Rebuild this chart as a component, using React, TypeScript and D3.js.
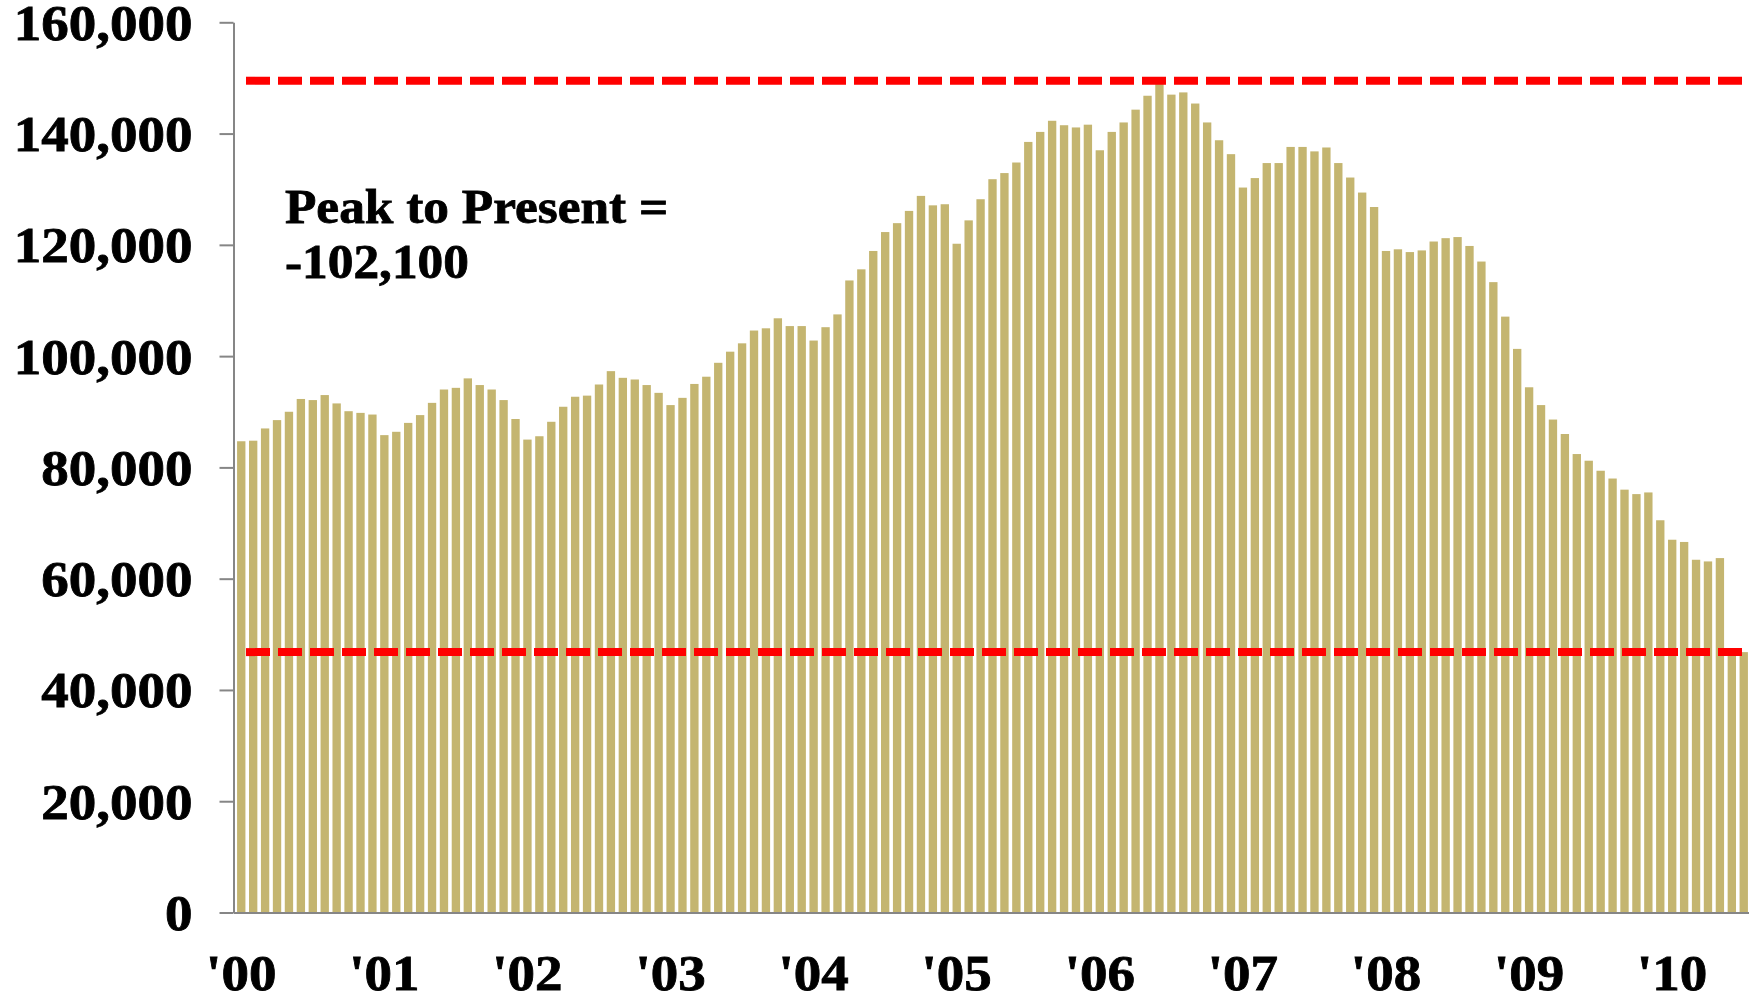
import React, { useRef, useEffect } from 'react';
import * as d3 from 'd3';

// constants
const width = 1749;
const height = 1002;
const axisX = 233.5;
const baseY = 912.5;
const topY = 22.3;
const barColour = '#C4B570';
const axisColour = '#868686';
const fontFamily = '"Liberation Serif", "Times New Roman", serif';
const fontSize = 50;
const stretch = 1.1; // widen the serif glyphs a little
const noteSize = 48;
const noteStretch = 1.07;

// monthly values, Jan 2000 .. Jul 2010
const values2000 = [84700, 84800, 87000, 88500, 90000, 92300, 92100, 93000, 91500, 90100, 89800, 89500];
const values2001 = [85800, 86400, 88000, 89400, 91600, 94000, 94300, 96000, 94800, 94000, 92100, 88700];
const values2002 = [85000, 85600, 88200, 90900, 92700, 92900, 94900, 97300, 96100, 95800, 94800, 93400];
const values2003 = [91200, 92500, 95000, 96300, 98800, 100800, 102300, 104600, 105000, 106800, 105400, 105400];
const values2004 = [102800, 105200, 107500, 113600, 115600, 118900, 122300, 123900, 126100, 128800, 127100, 127300];
const values2005 = [120200, 124400, 128200, 131800, 132900, 134800, 138500, 140300, 142300, 141500, 141100, 141600];
const values2006 = [137000, 140300, 142000, 144300, 146800, 148900, 147000, 147400, 145400, 142000, 138800, 136300];
const values2007 = [130300, 132000, 134700, 134700, 137600, 137600, 136800, 137500, 134700, 132100, 129400, 126800];
const values2008 = [118900, 119200, 118700, 119000, 120600, 121200, 121400, 119800, 117000, 113300, 107100, 101300];
const values2009 = [94400, 91200, 88600, 86000, 82400, 81200, 79400, 78000, 76000, 75200, 75500, 70500];
const values2010 = [67000, 66600, 63400, 63100, 63700, 47100, 46800];

const values = [
  ...values2000, ...values2001, ...values2002, ...values2003, ...values2004, ...values2005,
  ...values2006, ...values2007, ...values2008, ...values2009, ...values2010,
];

const yTicks = [0, 20000, 40000, 60000, 80000, 100000, 120000, 140000, 160000];
const xTickLabels = ["'00", "'01", "'02", "'03", "'04", "'05", "'06", "'07", "'08", "'09", "'10"];
const refLines = [149500, 46800]; // peak and present
const note = ['Peak to Present =', '-102,100'];

const App = () => {
  const barsRef = useRef<SVGGElement>(null);
  const yAxisRef = useRef<SVGGElement>(null);
  const xAxisRef = useRef<SVGGElement>(null);
  const linesRef = useRef<SVGGElement>(null);

  // scales
  const xScale = d3.scaleBand<number>()
    .domain(d3.range(values.length))
    .range([axisX, 1751.5])
    .paddingInner(0.3)
    .paddingOuter(0.3);
  const yScale = d3.scaleLinear().domain([0, 160000]).range([baseY, topY]);

  useEffect(() => {
    // bars
    d3.select(barsRef.current)
      .selectAll('rect')
      .data(values)
      .join('rect')
        .attr('x', (d, i) => xScale(i)!)
        .attr('width', xScale.bandwidth())
        .attr('y', d => yScale(d))
        .attr('height', d => baseY - yScale(d))
        .attr('fill', barColour);

    // y axis
    const yAxis = d3.select(yAxisRef.current)
      .attr('transform', `translate(${axisX},0)`)
      .call(d3.axisLeft(yScale).tickValues(yTicks).tickSize(14).tickSizeOuter(0).tickFormat(d3.format(',')));
    yAxis.select('.domain').attr('stroke', axisColour).attr('stroke-width', 2);
    yAxis.selectAll('.tick line').attr('stroke', axisColour).attr('stroke-width', 2);
    yAxis.selectAll('.tick text')
      .attr('x', null)
      .attr('dy', '0.34em')
      .attr('transform', `translate(-41,0) scale(${stretch},1)`)
      .attr('font-family', fontFamily)
      .attr('font-weight', 'bold')
      .attr('font-size', fontSize)
      .attr('fill', '#000')
      .attr('stroke', '#000')
      .attr('stroke-width', 0.8);

    // x axis: labels under each January bar
    const januaries = d3.range(0, values.length, 12);
    const xAxis = d3.select(xAxisRef.current)
      .attr('transform', `translate(0,${baseY})`)
      .call(d3.axisBottom(xScale).tickValues(januaries).tickSize(0).tickFormat((d, i) => xTickLabels[i]));
    xAxis.select('.domain').attr('stroke', axisColour).attr('stroke-width', 2);
    xAxis.selectAll('.tick text')
      .attr('y', null)
      .attr('dy', null)
      .attr('transform', `translate(0,77) scale(${stretch},1)`)
      .attr('font-family', fontFamily)
      .attr('font-weight', 'bold')
      .attr('font-size', fontSize)
      .attr('fill', '#000')
      .attr('stroke', '#000')
      .attr('stroke-width', 0.8);

    // dashed reference lines
    d3.select(linesRef.current)
      .selectAll('line')
      .data(refLines)
      .join('line')
        .attr('x1', 246)
        .attr('x2', width)
        .attr('y1', d => yScale(d))
        .attr('y2', d => yScale(d))
        .attr('stroke', '#FF0000')
        .attr('stroke-width', 8)
        .attr('stroke-dasharray', '24 8');
  }, []);

  return (
    <div style={{ position: 'absolute', left: 0, top: 0 }}>
      <svg width={width} height={height} style={{ display: 'block', background: '#fff' }}>
        <g ref={barsRef}></g>
        <g ref={xAxisRef}></g>
        <g ref={yAxisRef}></g>
        <g ref={linesRef}></g>
        <g transform={`translate(285,0) scale(${noteStretch},1)`} fontFamily={fontFamily} fontWeight="bold"
          fontSize={noteSize} stroke="#000" strokeWidth={0.8}>
          {note.map((t, i) => (
            <text key={i} x={0} y={223 + i * 55}>{t}</text>
          ))}
        </g>
      </svg>
    </div>
  );
};

export default App;
